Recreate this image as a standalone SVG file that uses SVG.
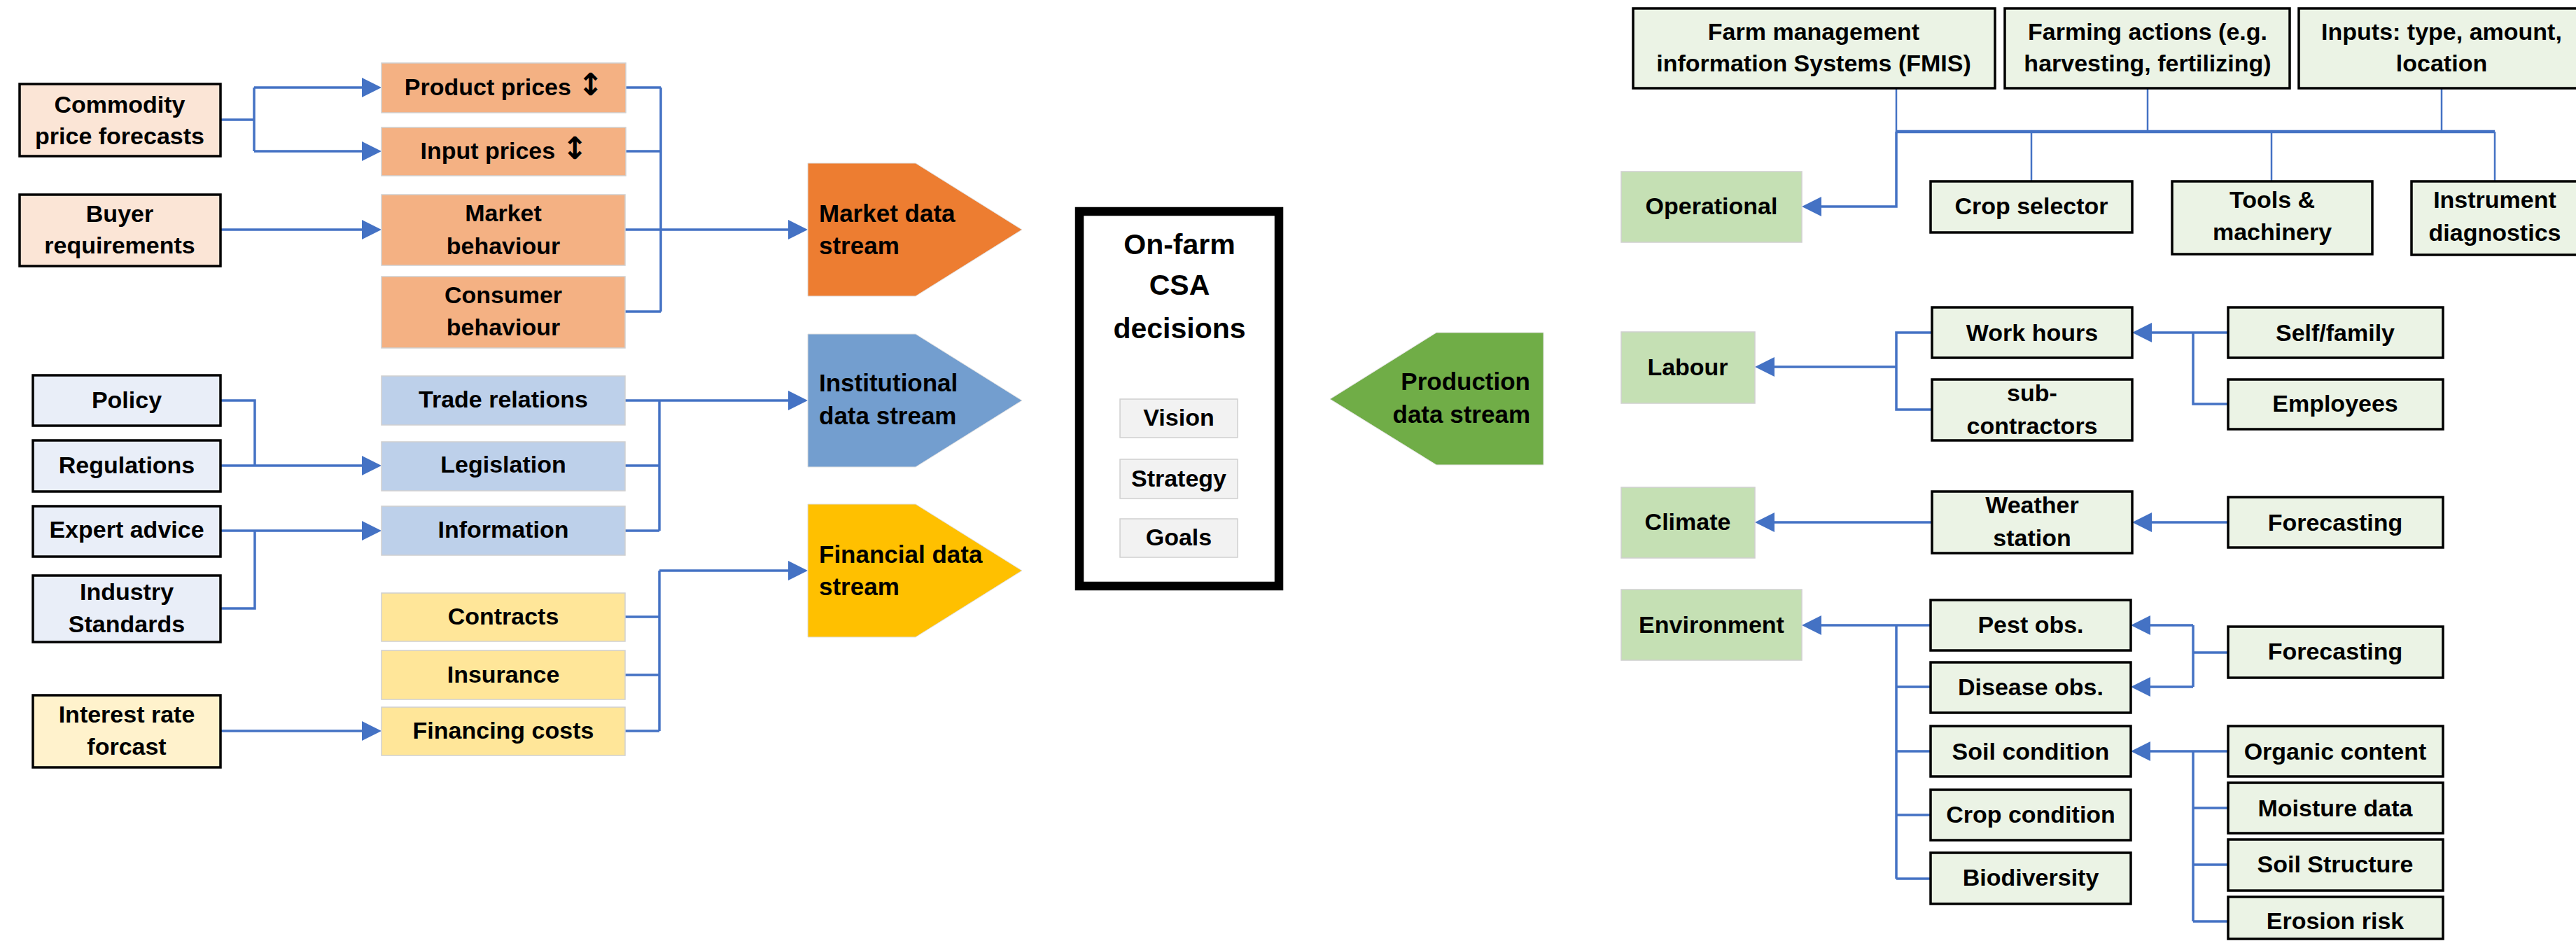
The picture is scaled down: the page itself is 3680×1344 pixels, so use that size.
<svg xmlns="http://www.w3.org/2000/svg" width="3680" height="1344" viewBox="0 0 3680 1344">
<style>
text{font-family:"Liberation Sans",Arial,sans-serif;font-weight:bold;font-size:34px;fill:#000;text-anchor:middle}
.ar{font-family:"DejaVu Sans",sans-serif;font-size:44px}
.st{font-size:35px;text-anchor:start}
.en{font-size:35px;text-anchor:end}
.ttl{font-size:41px}
.bk{stroke:#000;stroke-width:3.5}
.lt{stroke:#D0D0D0;stroke-width:1.5}
.c{fill:none;stroke:#4472C4;stroke-width:3.5}
.cn{fill:none;stroke:#4472C4;stroke-width:2.5}
.ca{fill:none;stroke:#4472C4;stroke-width:3.5;marker-end:url(#ah)}
.po{fill:#FBE5D6}.pb{fill:#E9EEF8}.py{fill:#FFF2CC}
.mo{fill:#F4B183}.mb{fill:#BDD0EA}.my{fill:#FFE699}
.gl{fill:#EBF3E5}.gd{fill:#C5E0B4}
</style>
<defs>
<marker id="ah" markerUnits="userSpaceOnUse" markerWidth="28" markerHeight="28" viewBox="0 0 28 28" refX="0" refY="14" orient="auto">
<path d="M0,0 L28,14 L0,28 z" fill="#4472C4"/>
</marker>
</defs>

<g id="connectors">
<path class="c" d="M315,171 H363 M363,125 V216"/>
<path class="ca" d="M363,125 H517"/>
<path class="ca" d="M363,216 H517"/>
<path class="ca" d="M315,328 H517"/>
<path class="c" d="M894,125 H944 M894,216 H944 M893,445 H944 M944,125 V445"/>
<path class="ca" d="M893,328 H1126"/>
<path class="c" d="M315,572 H364 V665"/>
<path class="ca" d="M315,665 H517"/>
<path class="ca" d="M315,758 H517"/>
<path class="c" d="M315,869 H364 V758"/>
<path class="c" d="M893,665 H942 M893,758 H942 M942,572 V758"/>
<path class="ca" d="M893,572 H1126"/>
<path class="ca" d="M315,1044 H517"/>
<path class="c" d="M893,881 H942 M893,964 H942 M893,1044 H942 M942,815 V1044"/>
<path class="ca" d="M942,815 H1126"/>
<path class="cn" d="M2709,126 V188 M3068,126 V188 M3488,126 V188 M2902,188 V259 M3245,188 V259 M3564,188 V259"/>
<path class="c" d="M2709,188 H3564" style="stroke-width:4.5"/>
<path class="ca" d="M2709,188 V295 H2602"/>
<path class="c" d="M2760,475 H2709 V585 H2760"/>
<path class="ca" d="M2709,524 H2535"/>
<path class="ca" d="M3183,475 H3074"/>
<path class="c" d="M3133,475 V577 H3183"/>
<path class="ca" d="M2760,746 H2535"/>
<path class="ca" d="M3183,746 H3074"/>
<path class="ca" d="M2758,893 H2602"/>
<path class="c" d="M2709,893 V1255 M2709,981 H2758 M2709,1073 H2758 M2709,1164 H2758 M2709,1255 H2758"/>
<path class="c" d="M3183,932 H3133 M3133,893 V981"/>
<path class="ca" d="M3133,893 H3072"/>
<path class="ca" d="M3133,981 H3072"/>
<path class="ca" d="M3183,1073 H3072"/>
<path class="c" d="M3133,1073 V1316 M3133,1154 H3183 M3133,1235 H3183 M3133,1316 H3183"/>
</g>

<g id="commodity"><rect class="po bk" x="28" y="120" width="287" height="103"/><text x="171" y="161">Commodity</text><text x="171" y="206">price forecasts</text></g>
<g id="buyer"><rect class="po bk" x="28" y="278" width="287" height="102"/><text x="171" y="317">Buyer</text><text x="171" y="362">requirements</text></g>
<g id="policy"><rect class="pb bk" x="47" y="536" width="268" height="72"/><text x="181" y="583">Policy</text></g>
<g id="regulations"><rect class="pb bk" x="47" y="629" width="268" height="73"/><text x="181" y="676">Regulations</text></g>
<g id="expert"><rect class="pb bk" x="47" y="723" width="268" height="72"/><text x="181" y="768">Expert advice</text></g>
<g id="industry"><rect class="pb bk" x="47" y="822" width="268" height="95"/><text x="181" y="857">Industry</text><text x="181" y="903">Standards</text></g>
<g id="interest"><rect class="py bk" x="47" y="993" width="268" height="103"/><text x="181" y="1032">Interest rate</text><text x="181" y="1078">forcast</text></g>

<g id="product"><rect class="mo lt" x="545" y="90" width="349" height="71"/><text x="720" y="136">Product prices <tspan class="ar">↕</tspan></text></g>
<g id="input"><rect class="mo lt" x="545" y="182" width="349" height="69"/><text x="720" y="227">Input prices <tspan class="ar">↕</tspan></text></g>
<g id="market"><rect class="mo lt" x="545" y="278" width="348" height="101"/><text x="719" y="316">Market</text><text x="719" y="363">behaviour</text></g>
<g id="consumer"><rect class="mo lt" x="545" y="395" width="348" height="102"/><text x="719" y="433">Consumer</text><text x="719" y="479">behaviour</text></g>
<g id="trade"><rect class="mb lt" x="545" y="537" width="348" height="70"/><text x="719" y="582">Trade relations</text></g>
<g id="legislation"><rect class="mb lt" x="545" y="631" width="348" height="70"/><text x="719" y="675">Legislation</text></g>
<g id="information"><rect class="mb lt" x="545" y="723" width="348" height="70"/><text x="719" y="768">Information</text></g>
<g id="contracts"><rect class="my lt" x="545" y="847" width="348" height="69"/><text x="719" y="892">Contracts</text></g>
<g id="insurance"><rect class="my lt" x="545" y="929" width="348" height="70"/><text x="719" y="975">Insurance</text></g>
<g id="financing"><rect class="my lt" x="545" y="1010" width="348" height="69"/><text x="719" y="1055">Financing costs</text></g>

<g id="market-stream"><path d="M1154,233 H1308 L1460,328 L1308,423 H1154 z" fill="#ED7D31" stroke="#E0E0E0" stroke-width="1"/><text class="st" x="1170" y="317">Market data</text><text class="st" x="1170" y="363">stream</text></g>
<g id="institutional-stream"><path d="M1154,477 H1308 L1460,572 L1308,667 H1154 z" fill="#739ECF" stroke="#E0E0E0" stroke-width="1"/><text class="st" x="1170" y="559">Institutional</text><text class="st" x="1170" y="606">data stream</text></g>
<g id="financial-stream"><path d="M1154,720 H1308 L1460,815 L1308,910 H1154 z" fill="#FFC000" stroke="#E0E0E0" stroke-width="1"/><text class="st" x="1170" y="804">Financial data</text><text class="st" x="1170" y="850">stream</text></g>
<g id="production-stream"><path d="M1900,570 L2052,475 H2205 V664 H2052 z" fill="#70AD47" stroke="#E0E0E0" stroke-width="1"/><text class="en" x="2186" y="557">Production</text><text class="en" x="2186" y="604">data stream</text></g>

<g id="csa"><rect x="1542" y="302" width="285" height="535" fill="#fff" stroke="#000" stroke-width="12.5"/><text class="ttl" x="1685" y="363">On-farm</text><text class="ttl" x="1685" y="421">CSA</text><text class="ttl" x="1685" y="483">decisions</text></g>
<g id="vision"><rect x="1600" y="570" width="168" height="55" fill="#F2F2F2" stroke="#D0D0D0" stroke-width="1.5"/><text x="1684" y="608">Vision</text></g>
<g id="strategy"><rect x="1600" y="656" width="168" height="56" fill="#F2F2F2" stroke="#D0D0D0" stroke-width="1.5"/><text x="1684" y="695">Strategy</text></g>
<g id="goals"><rect x="1600" y="741" width="168" height="55" fill="#F2F2F2" stroke="#D0D0D0" stroke-width="1.5"/><text x="1684" y="779">Goals</text></g>

<g id="fmis"><rect class="gl bk" x="2333" y="12" width="517" height="114"/><text x="2591" y="57">Farm management</text><text x="2591" y="102">information Systems (FMIS)</text></g>
<g id="farming-actions"><rect class="gl bk" x="2864" y="12" width="407" height="114"/><text x="3068" y="57">Farming actions (e.g.</text><text x="3068" y="102">harvesting, fertilizing)</text></g>
<g id="inputs"><rect class="gl bk" x="3284" y="12" width="410" height="114"/><text x="3488" y="57">Inputs: type, amount,</text><text x="3488" y="102">location</text></g>
<g id="operational"><rect class="gd lt" x="2316" y="245" width="258" height="101"/><text x="2445" y="306">Operational</text></g>
<g id="crop-selector"><rect class="gl bk" x="2758" y="259" width="288" height="73"/><text x="2902" y="306">Crop selector</text></g>
<g id="tools"><rect class="gl bk" x="3103" y="259" width="286" height="104"/><text x="3246" y="297">Tools &amp;</text><text x="3246" y="343">machinery</text></g>
<g id="instrument"><rect class="gl bk" x="3445" y="259" width="250" height="105"/><text x="3564" y="297">Instrument</text><text x="3564" y="344">diagnostics</text></g>

<g id="labour"><rect class="gd lt" x="2316" y="474" width="191" height="102"/><text x="2411" y="536">Labour</text></g>
<g id="work-hours"><rect class="gl bk" x="2760" y="439" width="286" height="72"/><text x="2903" y="487">Work hours</text></g>
<g id="subcontractors"><rect class="gl bk" x="2760" y="542" width="286" height="87"/><text x="2903" y="573">sub-</text><text x="2903" y="620">contractors</text></g>
<g id="self-family"><rect class="gl bk" x="3183" y="439" width="307" height="72"/><text x="3336" y="487">Self/family</text></g>
<g id="employees"><rect class="gl bk" x="3183" y="542" width="307" height="71"/><text x="3336" y="588">Employees</text></g>

<g id="climate"><rect class="gd lt" x="2316" y="696" width="191" height="101"/><text x="2411" y="757">Climate</text></g>
<g id="weather"><rect class="gl bk" x="2760" y="702" width="286" height="88"/><text x="2903" y="733">Weather</text><text x="2903" y="780">station</text></g>
<g id="forecasting-climate"><rect class="gl bk" x="3183" y="710" width="307" height="72"/><text x="3336" y="758">Forecasting</text></g>

<g id="environment"><rect class="gd lt" x="2316" y="842" width="258" height="101"/><text x="2445" y="904">Environment</text></g>
<g id="pest"><rect class="gl bk" x="2758" y="857" width="286" height="72"/><text x="2901" y="904">Pest obs.</text></g>
<g id="disease"><rect class="gl bk" x="2758" y="946" width="286" height="72"/><text x="2901" y="993">Disease obs.</text></g>
<g id="soil-condition"><rect class="gl bk" x="2758" y="1037" width="286" height="72"/><text x="2901" y="1085">Soil condition</text></g>
<g id="crop-condition"><rect class="gl bk" x="2758" y="1128" width="286" height="72"/><text x="2901" y="1175">Crop condition</text></g>
<g id="biodiversity"><rect class="gl bk" x="2758" y="1218" width="286" height="73"/><text x="2901" y="1265">Biodiversity</text></g>
<g id="forecasting-env"><rect class="gl bk" x="3183" y="895" width="307" height="73"/><text x="3336" y="942">Forecasting</text></g>
<g id="organic"><rect class="gl bk" x="3183" y="1037" width="307" height="72"/><text x="3336" y="1085">Organic content</text></g>
<g id="moisture"><rect class="gl bk" x="3183" y="1118" width="307" height="72"/><text x="3336" y="1166">Moisture data</text></g>
<g id="soil-structure"><rect class="gl bk" x="3183" y="1199" width="307" height="73"/><text x="3336" y="1246">Soil Structure</text></g>
<g id="erosion"><rect class="gl bk" x="3183" y="1281" width="307" height="60"/><text x="3336" y="1327">Erosion risk</text></g>
</svg>
